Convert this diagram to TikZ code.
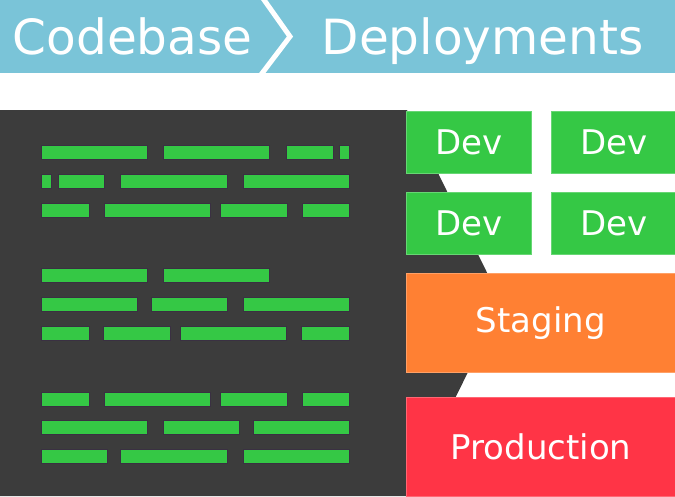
\documentclass[tikz,border=0pt]{standalone}
\usepackage{fontspec}
\setmainfont{DejaVu Sans}
\usetikzlibrary{positioning}
\definecolor{headblue}{HTML}{7AC4D8}
\definecolor{codedark}{HTML}{3C3C3C}
\definecolor{codegreen}{HTML}{35C845}
\definecolor{barshade}{HTML}{3A3042}
\definecolor{stageorange}{HTML}{FF8033}
\definecolor{prodred}{HTML}{FF3446}

\begin{document}
\begin{tikzpicture}[x=1pt,y=-1pt,
    title/.style={text=white,inner sep=0pt,anchor=base west,font=\fontsize{48.5}{56}\selectfont},
    card/.style={fill=#1,draw=#1!75!white,line width=0.8pt,text=white,inner sep=0pt,
                 font=\fontsize{34}{40}\selectfont},
    devcard/.style={card=codegreen,minimum width=125pt,minimum height=62pt},
    wide/.style={card=#1,minimum width=269pt,minimum height=99pt},
    codebar/.style={fill=codegreen,draw=barshade,line width=0.6pt}]
  \useasboundingbox (0,0) rectangle (675,496);
  % header
  \fill[headblue] (0,0) rectangle (675,73);
  \begin{scope}
    \clip (0,0) rectangle (675,73);
    \draw[white,line width=5pt,line join=miter] (262,-3) -- (290,36.5) -- (260,76);
  \end{scope}
  \node[title] (codebase) at (12.5,54) {Codebase};
  \node[title] (deploy) at (321.5,54) {Deployments};
  % codebase
  \fill[codedark] (0,110) -- (407,110) -- (502,303) -- (407,496) -- (0,496) -- cycle;
  \foreach \y/\bars in {145/{41/147,163/269,286/333,339/349},
                        174/{41/51,58/104,120/227,243/349},
                        203/{41/89,104/210,220/287,302/349},
                        268/{41/147,163/269},
                        297/{41/137,151/227,243/349},
                        326/{41/89,103/170,180/286,301/349},
                        392/{41/89,104/210,220/287,302/349},
                        420/{41/147,163/239,253/349},
                        449/{41/107,120/227,243/349}}
    \foreach \a/\b in \bars
      \draw[codebar] (\a,\y) rectangle (\b,\y+14.5);
  % deployments
  \node[devcard,anchor=north west] (dev1) at (406,111) {Dev};
  \node[devcard,right=19pt of dev1] (dev2) {Dev};
  \node[devcard,below=18pt of dev1] (dev3) {Dev};
  \node[devcard,right=19pt of dev3] (dev4) {Dev};
  \node[wide=stageorange,anchor=north west] (staging) at (406,273) {Staging};
  \node[wide=prodred,anchor=north west] (production) at (406,397) {Production};
\end{tikzpicture}
\end{document}
